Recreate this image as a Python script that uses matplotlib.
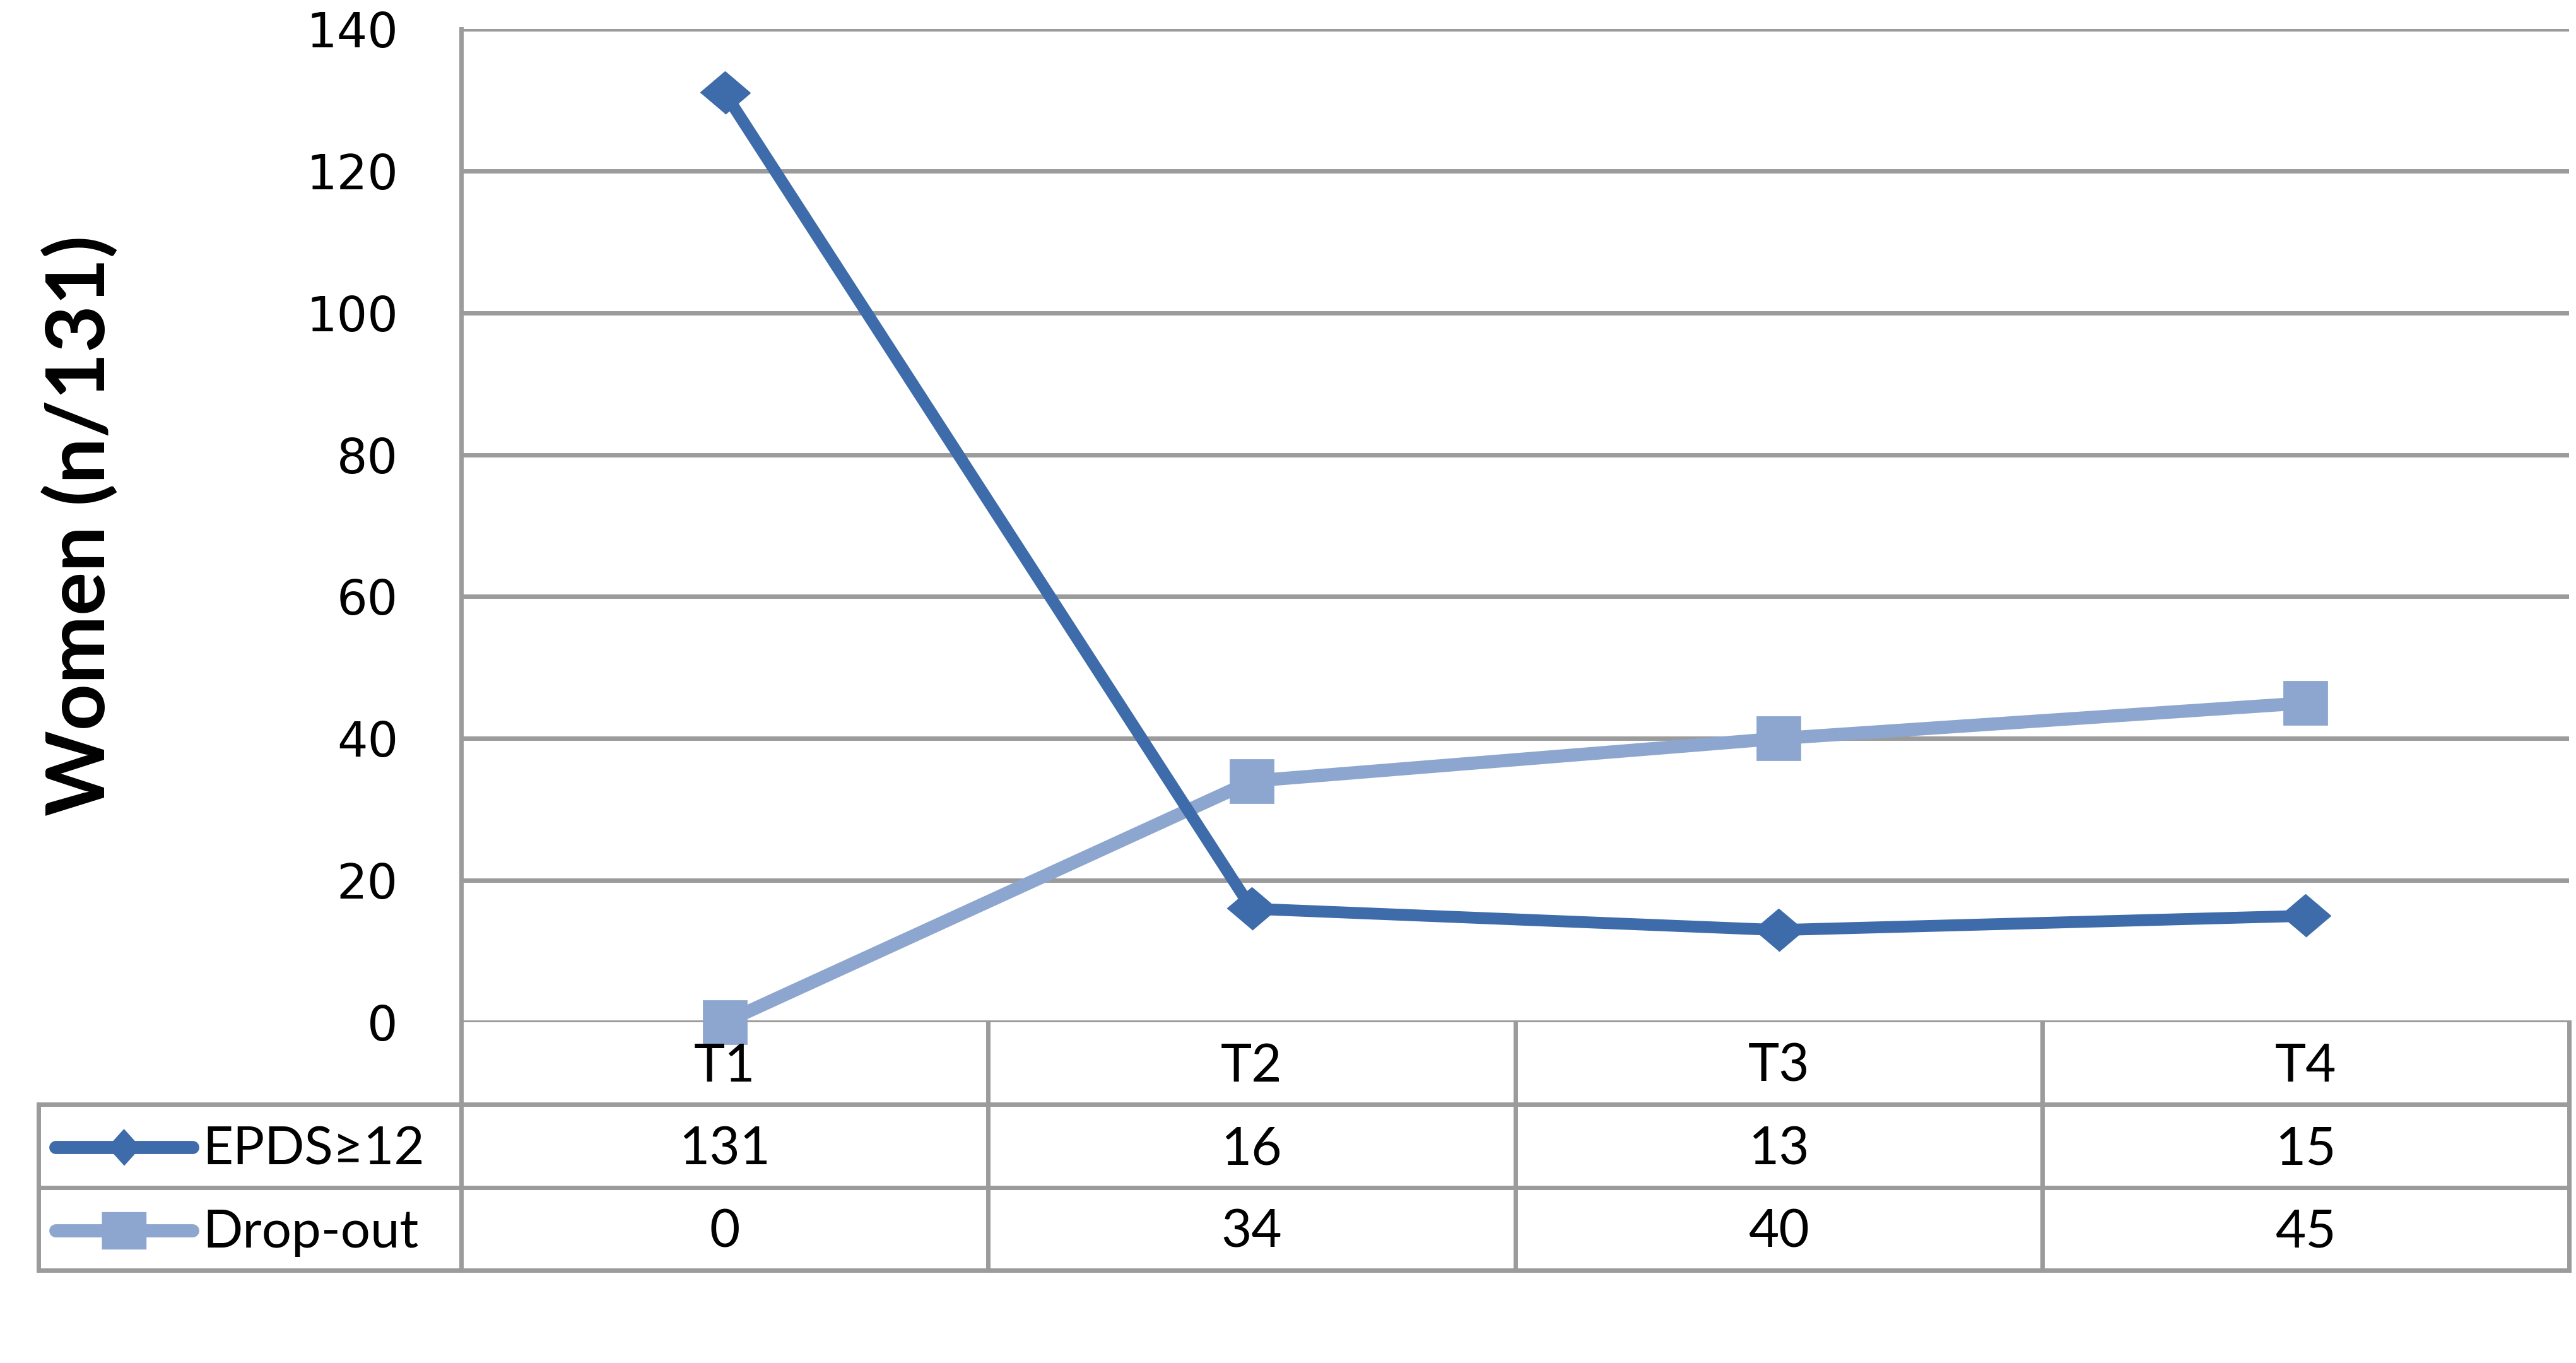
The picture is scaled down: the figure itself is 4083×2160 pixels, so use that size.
import numpy as np
import matplotlib.pyplot as plt

# data
timepoints = ['T1', 'T2', 'T3', 'T4']
epds = [131, 16, 13, 15]
dropout = [0, 34, 40, 45]
series_names = ['EPDS\u226512', 'Drop-out']
yticks = [0, 20, 40, 60, 80, 100, 120, 140]

DARK = '#3E6BA9'
LIGHT = '#8DA6CF'
GRID = '#9B9B9B'

W, H = 4083, 2160
AX_L, AX_R, AX_T, AX_B = 731, 4072, 46, 1620  # plot area in pixels
TAB_L = 61
ROWS = [1620, 1750, 1882, 2013]


def ax_x(px):
    return (px - AX_L) / (AX_R - AX_L)


def ax_y(py):
    return (AX_B - py) / (AX_B - AX_T)


fig = plt.figure(figsize=(W / 100, H / 100), dpi=100)
ax = fig.add_axes([AX_L / W, 1 - AX_B / H, (AX_R - AX_L) / W, (AX_B - AX_T) / H])

diamond = [(-1, 0), (0, 0.85), (1, 0), (0, -0.85)]
key_diamond = [(-0.9, 0), (0, 1), (0.9, 0), (0, -1)]
key_square = [(-0.6, -0.5), (0.6, -0.5), (0.6, 0.5), (-0.6, 0.5)]

x = np.arange(len(timepoints))
ax.plot(x, dropout, color=LIGHT, lw=15, marker='s', ms=49, mec=LIGHT, mew=2,
        solid_joinstyle='round', zorder=3, clip_on=False)
ax.plot(x, epds, color=DARK, lw=13.5, marker=diamond, ms=56, mec=DARK, mew=2,
        solid_joinstyle='round', zorder=4, clip_on=False)

ax.set_xlim(-0.5, len(timepoints) - 0.5)
ax.set_ylim(0, 140)
ax.set_yticks(yticks)
ax.set_xticks([])
ax.tick_params(axis='y', length=0, pad=72, labelsize=55)
ax.grid(axis='y', color=GRID, lw=5)
ax.set_axisbelow(True)
for s in ['top', 'right', 'bottom']:
    ax.spines[s].set_visible(False)
ax.spines['left'].set_color(GRID)
ax.spines['left'].set_linewidth(5)

ax.text(ax_x(128), ax_y(833), 'Women (n/131)', transform=ax.transAxes,
        rotation=90, ha='center', va='center', fontsize=93,
        fontweight='bold', family=['Lato', 'DejaVu Sans'])

# data table below the plot
lkw = dict(transform=ax.transAxes, color=GRID, lw=5, clip_on=False,
           solid_capstyle='projecting')
for yy in ROWS[1:]:
    ax.plot([ax_x(TAB_L), 1], [ax_y(yy)] * 2, **lkw)
ax.plot([ax_x(TAB_L)] * 2, [ax_y(ROWS[1]), ax_y(ROWS[-1])], **lkw)
for k in range(len(timepoints) + 1):
    ax.plot([k / len(timepoints)] * 2, [ax_y(ROWS[0]), ax_y(ROWS[-1])], **lkw)

tfont = dict(fontsize=60, family=['Lato', 'DejaVu Sans'], ha='center', va='center')
mid = [(ROWS[i] + ROWS[i + 1]) / 2 + 6 for i in range(3)]
for i, t in enumerate(timepoints):
    ax.text(i, ax_y(mid[0]), t, transform=ax.get_xaxis_transform(), **tfont)
    ax.text(i, ax_y(mid[1]), str(epds[i]), transform=ax.get_xaxis_transform(), **tfont)
    ax.text(i, ax_y(mid[2]), str(dropout[i]), transform=ax.get_xaxis_transform(), **tfont)

keys = [(DARK, key_diamond, 41), (LIGHT, key_square, 50)]
for r, (name, (col, mk, ms)) in enumerate(zip(series_names, keys)):
    yy = ax_y(mid[r + 1] - 4)
    ax.plot([ax_x(88), ax_x(305)], [yy, yy], color=col, lw=15,
            solid_capstyle='round', transform=ax.transAxes, clip_on=False)
    ax.plot([ax_x(196)], [yy], marker=mk, ms=ms, color=col, mec=col,
            transform=ax.transAxes, clip_on=False)
    ax.text(ax_x(321), ax_y(mid[r + 1]), name, transform=ax.transAxes, fontsize=60,
            family=['Lato', 'DejaVu Sans'], ha='left', va='center')

fig.savefig('out.png', dpi=100, facecolor='white')
